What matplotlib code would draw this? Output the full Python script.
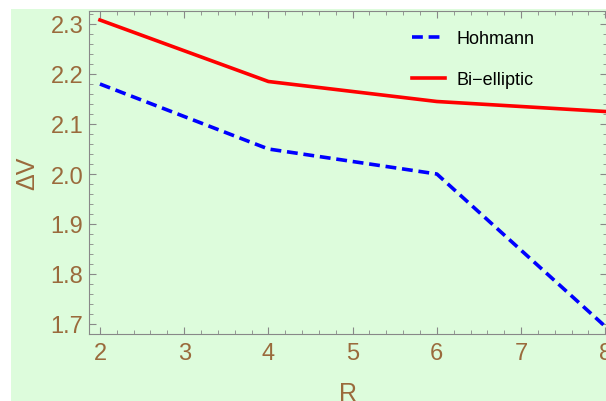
import numpy as np
import matplotlib.pyplot as plt
from matplotlib.patches import Rectangle
from matplotlib.ticker import MultipleLocator

R = [2, 4, 6, 8]
hohmann = [2.18, 2.05, 2.0, 1.695]
bielliptic = [2.308, 2.185, 2.145, 2.125]

brown = '#9a6a3c'
green = '#ddfcdc'
plt.rcParams['font.family'] = ['Liberation Sans', 'DejaVu Sans']

fig = plt.figure(figsize=(6.06, 4.02), dpi=100)
fig.patch.set_facecolor('white')
fig.patches.append(Rectangle((11/606, 0), 1, 1 - 10/402, transform=fig.transFigure,
                             facecolor=green, edgecolor='none', zorder=-1))

ax = fig.add_axes([89/606, 1 - 335/402, 518/606, 323/402])
ax.set_facecolor(green)

ax.plot(R, hohmann, color='#0000ff', lw=2.6, ls=(0, (3, 1.6)), label='Hohmann')
ax.plot(R, bielliptic, color='#ff0000', lw=2.6, label='Bi\u2212elliptic')

ax.set_xlim(1.87, 8.02)
ax.set_ylim(1.68, 2.326)
ax.xaxis.set_major_locator(MultipleLocator(1))
ax.xaxis.set_minor_locator(MultipleLocator(0.2))
ax.yaxis.set_major_locator(MultipleLocator(0.1))
ax.yaxis.set_minor_locator(MultipleLocator(0.02))
ax.yaxis.set_major_formatter(plt.FuncFormatter(lambda v, p: f'{v:.1f}'))

for s in ax.spines.values():
    s.set_color('#888888')
ax.tick_params(which='both', direction='in', color='#888888', top=True, right=True,
               labelcolor=brown, labelsize=17)
ax.tick_params(which='major', length=5)
ax.tick_params(which='minor', length=3)
ax.tick_params(axis='x', pad=6)
ax.tick_params(axis='y', pad=4)

ax.set_xlabel('R', color=brown, fontsize=18, labelpad=12)
ax.set_ylabel('\u0394V', color=brown, fontsize=18, labelpad=8)

leg = ax.legend(loc='upper right', bbox_to_anchor=(0.892, 0.99), frameon=False,
                fontsize=13, handlelength=1.85, handletextpad=0.65, labelspacing=1.32)

fig.savefig('out.png', dpi=100)
